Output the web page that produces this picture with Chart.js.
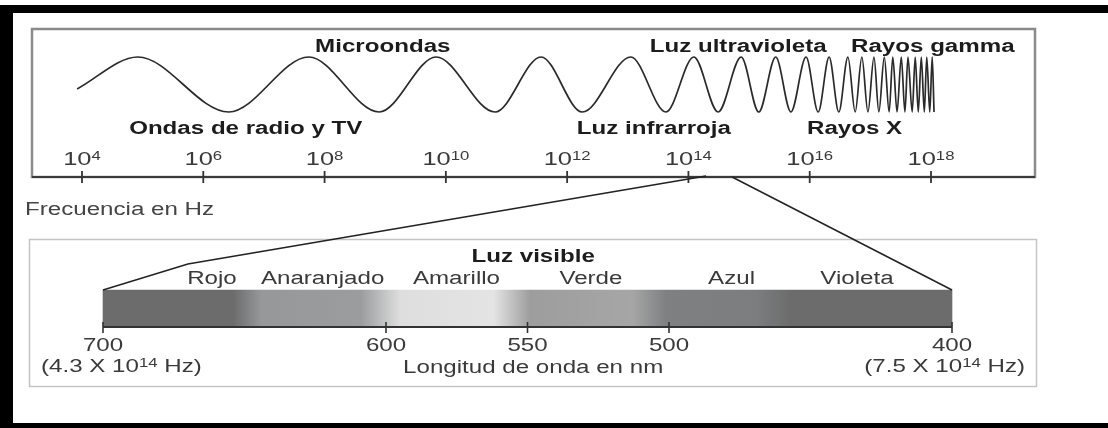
<!DOCTYPE html>
<html>
<head>
<meta charset="utf-8">
<title>Espectro electromagnético</title>
<script src="https://cdn.jsdelivr.net/npm/chart.js@4.4.0/dist/chart.umd.min.js"></script>
<style>
html, body { margin: 0; padding: 0; background: #fff; }
#wrap { width: 1108px; height: 428px; }
</style>
</head>
<body>
<div id="wrap"><canvas id="myChart" width="1108" height="428"></canvas></div>
<script>
// frequency axis: exponents of 10 (Hz)
const freqTicks = [4, 6, 8, 10, 12, 14, 16, 18];
const bandNames = ['Ondas de radio y TV', 'Microondas', 'Luz infrarroja', 'Luz ultravioleta', 'Rayos X', 'Rayos gamma'];
const bandAt = [6.70, 8.96, 13.43, 14.82, 16.74, 18.03];
const bandRow = ['bottom', 'top', 'bottom', 'top', 'bottom', 'top'];

// crests and troughs of the wave (x = log10 Hz, y = amplitude)
const waveX = [3.92, 4.92, 6.42, 7.74, 8.90, 9.84, 10.81, 11.57, 12.25, 13.05, 13.63, 14.09, 14.49, 14.87, 15.16,
  15.44, 15.69, 15.94, 16.14, 16.32, 16.48, 16.63, 16.75, 16.86, 16.96, 17.06, 17.14, 17.23, 17.31, 17.37,
  17.44, 17.51, 17.57, 17.62, 17.69, 17.74, 17.79, 17.84, 17.89, 17.93, 17.98, 18.02, 18.05];
const waveY = [-0.16, 1, -1, 1, -1, 1, -1, 1, -1, 1, -1, 1, -1, 1, -1,
  1, -1, 1, -1, 1, -1, 1, -1, 1, -1, 1, -1, 1, -1, 1,
  -1, 1, -1, 1, -1, 1, -1, 1, -1, 1, -1, 1, -1];

// visible light (nm)
const visibleFrom = [14.29, 14.72];   // where the zoom lines leave the frequency axis
const nmRange = [400, 700];
const nmTicks = [700, 600, 550, 500, 400];
const colorNames = ['Rojo', 'Anaranjado', 'Amarillo', 'Verde', 'Azul', 'Violeta'];
const colorAt = [661.5, 622.4, 575.1, 527.6, 477.9, 433.6];
const shadeNm = [700, 654, 644, 609, 595, 562, 549, 513, 501, 469, 457, 400];
const shadeGray = ['#6c6c6c', '#6c6c6c', '#96989a', '#9a9c9d', '#dedede', '#e4e4e4', '#9d9d9d', '#a6a6a6',
  '#7e8081', '#7b7d7e', '#6c6c6c', '#6c6c6c'];

const S = 1.34; // the print is stretched sideways
const REG = '18px "Liberation Sans", Arial, sans-serif';
const BOLD = 'bold 18px "Liberation Sans", Arial, sans-serif';
const TICK = '19px "Liberation Sans", Arial, sans-serif';
const SUP = '12.5px "Liberation Sans", Arial, sans-serif';
const AXIS = 177;

function write(c, parts, x, y, align, color) {
    c.fillStyle = color || '#3a3a3a';
    c.textBaseline = 'alphabetic';
    c.textAlign = 'left';
    let w = 0;
    parts.forEach(p => { c.font = p.f; p.w = c.measureText(p.t).width * S; w += p.w; });
    let px = x;
    if (align === 'center') px = x - w / 2;
    if (align === 'right') px = x - w;
    parts.forEach(p => {
        c.font = p.f;
        c.save();
        c.translate(px, y - (p.up || 0));
        c.scale(S, 1);
        c.fillText(p.t, 0, 0);
        c.restore();
        px += p.w;
    });
}

function line(c, x0, y0, x1, y1, color, width) {
    c.strokeStyle = color;
    c.lineWidth = width;
    c.beginPath();
    c.moveTo(x0, y0);
    c.lineTo(x1, y1);
    c.stroke();
}

function shade(context) {
    const chart = context.chart;
    const s = chart.scales.xw;
    if (!s || !chart.chartArea) return '#888';
    const a = s.getPixelForValue(nmRange[1]), b = s.getPixelForValue(nmRange[0]);
    if (!isFinite(a) || !isFinite(b)) return '#888';
    const g = chart.ctx.createLinearGradient(a, 0, b, 0);
    shadeNm.forEach((v, i) => g.addColorStop((nmRange[1] - v) / (nmRange[1] - nmRange[0]), shadeGray[i]));
    return g;
}

const diagram = {
    id: 'diagram',
    beforeDatasetsDraw(chart) {
        const c = chart.ctx;
        c.save();
        c.fillStyle = '#fff';
        c.fillRect(0, 0, 1108, 428);
        // black frame of the page
        c.fillStyle = '#000';
        c.fillRect(0, 5, 1108, 8);
        c.fillRect(0, 5, 13, 423);
        c.fillRect(0, 423, 1108, 5);
        // boxes
        c.strokeStyle = '#8a8a8a';
        c.lineWidth = 2.5;
        c.strokeRect(32, 29, 1003, AXIS - 29);
        c.strokeStyle = '#c4c4c4';
        c.lineWidth = 1.5;
        c.strokeRect(29.5, 239.5, 1007, 147);
        c.restore();
    },
    afterDatasetsDraw(chart) {
        const c = chart.ctx;
        const xf = chart.scales.xf, xw = chart.scales.xw;
        const bar = chart.getDatasetMeta(1).data[0];
        const barTop = bar.y - bar.height / 2, barBot = bar.y + bar.height / 2;
        c.save();

        // frequency axis
        line(c, 32, AXIS, 1035, AXIS, '#3a3a3a', 2);
        freqTicks.forEach(e => {
            const x = xf.getPixelForValue(e);
            line(c, x, AXIS - 6, x, AXIS + 6, '#333', 1.8);
            write(c, [{t: '10', f: TICK}, {t: String(e), f: SUP, up: 5}], x, 165, 'center', '#3a3a3a');
        });
        write(c, [{t: 'Frecuencia en Hz', f: REG}], 25, 215, 'left', '#444');
        bandNames.forEach((n, i) => {
            write(c, [{t: n, f: BOLD}], xf.getPixelForValue(bandAt[i]), bandRow[i] === 'top' ? 52 : 134, 'center', '#1c1c1c');
        });

        // wavelength axis
        const x0 = xw.getPixelForValue(nmRange[1]), x1 = xw.getPixelForValue(nmRange[0]);
        line(c, x0, barBot + 1, x1, barBot + 1, '#333', 2);
        nmTicks.forEach(v => {
            const x = xw.getPixelForValue(v);
            line(c, x, barBot - 4, x, barBot + 7, '#333', 1.6);
            write(c, [{t: String(v), f: REG}], x, 351, 'center', '#3a3a3a');
        });
        write(c, [{t: '(4.3 X 10', f: REG}, {t: '14', f: SUP, up: 5}, {t: ' Hz)', f: REG}], 41, 372, 'left', '#3a3a3a');
        write(c, [{t: '(7.5 X 10', f: REG}, {t: '14', f: SUP, up: 5}, {t: ' Hz)', f: REG}], 1025, 372, 'right', '#3a3a3a');
        colorNames.forEach((n, i) => {
            write(c, [{t: n, f: REG}], xw.getPixelForValue(colorAt[i]), 284, 'center', '#3a3a3a');
        });
        write(c, [{t: 'Luz visible', f: BOLD}], xw.getPixelForValue(548), 262, 'center', '#1c1c1c');
        write(c, [{t: 'Longitud de onda en nm', f: REG}], xw.getPixelForValue(548), 373, 'center', '#3a3a3a');

        // zoom lines from the frequency axis to the visible band
        c.strokeStyle = '#222';
        c.lineWidth = 1.5;
        c.beginPath();
        c.moveTo(xf.getPixelForValue(visibleFrom[0]), AXIS - 1);
        c.lineTo(xw.getPixelForValue(670), barTop - 26);
        c.lineTo(x0, barTop);
        c.stroke();
        c.beginPath();
        c.moveTo(xf.getPixelForValue(visibleFrom[1]), AXIS);
        c.lineTo(x1, barTop);
        c.stroke();
        c.restore();
    }
};

const ctx = document.getElementById('myChart');
var chart = new Chart(ctx, {
    type: 'line',
    data: {
        datasets: [{
            type: 'line',
            label: 'Onda',
            data: waveX.map((x, i) => ({x: x, y: waveY[i]})),
            xAxisID: 'xf',
            yAxisID: 'yw',
            borderColor: '#2a2a2a',
            borderWidth: 1.7,
            pointRadius: 0,
            fill: false,
            cubicInterpolationMode: 'monotone'
        }, {
            type: 'bar',
            label: 'Luz visible',
            indexAxis: 'y',
            grouped: false,
            data: [{x: nmRange, y: 0}],
            xAxisID: 'xw',
            yAxisID: 'yb',
            barThickness: 36,
            borderWidth: 0,
            backgroundColor: shade
        }]
    },
    options: {
        responsive: false,
        animation: false,
        events: [],
        layout: { autoPadding: false, padding: 0 },
        plugins: {
            legend: { display: false },
            tooltip: { enabled: false }
        },
        scales: {
            xf: { type: 'linear', axis: 'x', display: false, offset: false, bounds: 'data', beginAtZero: false,
                  min: 4 - 82 / 60.64, max: 18 + (1108 - 931) / 60.64 },
            xw: { type: 'linear', axis: 'x', display: false, offset: false, bounds: 'data', beginAtZero: false, reverse: true,
                  min: 400 - 156 / 2.83, max: 700 + 103 / 2.83 },
            yw: { type: 'linear', axis: 'y', display: false, offset: false, bounds: 'data', beginAtZero: false,
                  min: -(428 - 84.5) / 27.5, max: 84.5 / 27.5 },
            yb: { type: 'linear', axis: 'y', display: false, offset: false, bounds: 'data', beginAtZero: false,
                  min: -30, max: 77 }
        }
    },
    plugins: [diagram]
});
chart.update();
</script>
</body>
</html>
